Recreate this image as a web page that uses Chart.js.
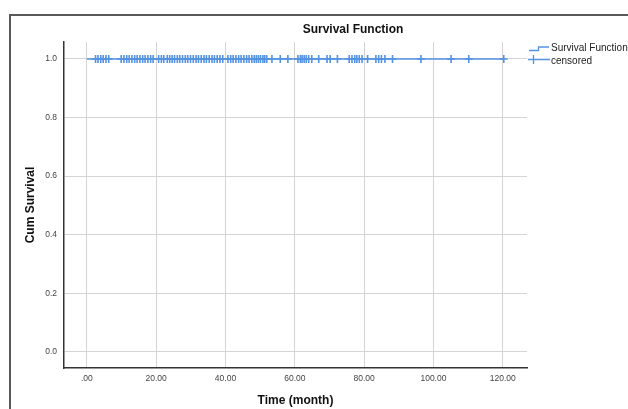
<!DOCTYPE html>
<html>
<head>
<meta charset="utf-8">
<script src="https://cdn.jsdelivr.net/npm/chart.js@4/dist/chart.umd.min.js"></script>
<style>
  html, body { margin: 0; padding: 0; background: #fff; }
  #wrap { position: relative; width: 628px; height: 409px; }
  #frame { position: absolute; left: 9px; top: 14px; right: 0; bottom: 0;
           border-left: 2px solid #5a5a5a; border-top: 2px solid #5a5a5a; }
  canvas { position: absolute; left: 0; top: 0; }
</style>
</head>
<body>
<div id="wrap">
  <div id="frame"></div>
  <canvas id="c" width="628" height="409"></canvas>
</div>
<script>
// data
const chartTitle = 'Survival Function';
const xTitle = 'Time (month)';
const yTitle = 'Cum Survival';

const survivalTimes = [0, 120.3];
const survivalValues = [1, 1];

const censoredTimes = [
  2.5, 3.2, 4.0, 4.7, 5.5, 6.3,
  9.9, 10.7, 11.5, 12.2, 13.0, 13.8, 14.5, 15.3, 16.1, 16.8, 17.6, 18.4, 19.1,
  20.7, 21.5, 22.2, 23.2, 23.9, 24.6, 25.3, 26.1, 26.8, 27.6, 28.4, 29.1, 29.9,
  30.7, 31.5, 32.2, 33.0, 33.8, 34.5, 35.3, 36.1, 36.8, 37.6, 38.4, 39.2,
  40.7, 41.5, 42.2, 43.0, 43.8, 44.5, 45.3, 46.1, 46.8, 47.6,
  48.3, 48.9, 49.5, 50.1, 50.8, 51.3, 51.9, 53.4, 55.8, 58.0,
  60.9, 61.6, 62.1, 62.7, 63.3, 64.0, 64.9, 66.9, 69.3, 70.2,
  72.3, 75.7, 76.5, 77.3, 77.9, 78.6, 79.4, 81.0, 83.4, 84.2, 85.0, 86.0, 88.2,
  96.4, 105.1, 110.2, 120.3
];
const censoredValues = censoredTimes.map(() => 1);

const xTicks = [0, 20, 40, 60, 80, 100, 120];
const xTickLabels = ['.00', '20.00', '40.00', '60.00', '80.00', '100.00', '120.00'];
const yTicks = [0, 0.2, 0.4, 0.6, 0.8, 1.0];
const yTickLabels = ['0.0', '0.2', '0.4', '0.6', '0.8', '1.0'];

const legendLabels = ['Survival Function', 'censored'];

const blue = 'rgb(84,146,226)';
const FONT = '"Liberation Sans", Arial, sans-serif';

const extras = {
  id: 'extras',
  afterDraw(chart) {
    const ctx = chart.ctx;
    ctx.save();
    ctx.fillStyle = '#111';
    ctx.font = 'bold 12px ' + FONT;
    ctx.textAlign = 'center';
    ctx.textBaseline = 'middle';
    ctx.fillText(chartTitle, 353, 30);

    // legend
    ctx.strokeStyle = blue;
    ctx.lineWidth = 1.3;
    ctx.beginPath();
    ctx.moveTo(529, 50.5); ctx.lineTo(538.5, 50.5); ctx.lineTo(538.5, 47); ctx.lineTo(549, 47);
    ctx.stroke();
    ctx.beginPath();
    ctx.moveTo(528, 59.5); ctx.lineTo(550, 59.5);
    ctx.moveTo(533.5, 55); ctx.lineTo(533.5, 64);
    ctx.stroke();
    ctx.fillStyle = '#222';
    ctx.font = '10px ' + FONT;
    ctx.textAlign = 'left';
    ctx.fillText(legendLabels[0], 551, 48.5);
    ctx.fillText(legendLabels[1], 551, 61);
    ctx.restore();
  }
};

new Chart(document.getElementById('c'), {
  type: 'scatter',
  data: {
    datasets: [
      {
        label: legendLabels[0],
        type: 'line',
        data: survivalTimes.map((t, i) => ({ x: t, y: survivalValues[i] })),
        borderColor: blue,
        borderWidth: 1.6,
        stepped: 'before',
        pointRadius: 0,
        fill: false
      },
      {
        label: legendLabels[1],
        data: censoredTimes.map((t, i) => ({ x: t, y: censoredValues[i] })),
        pointStyle: 'cross',
        pointRadius: 4,
        borderColor: blue,
        borderWidth: 1.6,
        backgroundColor: blue
      }
    ]
  },
  options: {
    responsive: false,
    animation: false,
    layout: { padding: { left: 0, right: 101, top: 42, bottom: 0 } },
    plugins: { legend: { display: false }, title: { display: false }, tooltip: { enabled: false } },
    scales: {
      x: {
        type: 'linear',
        min: -6.6,
        max: 127,
        afterFit: s => { s.height = 41; },
        afterBuildTicks: s => { s.ticks = xTicks.map(v => ({ value: v })); },
        ticks: {
          padding: 6,
          maxRotation: 0,
          autoSkip: false,
          color: '#444',
          font: { family: FONT, size: 8.5 },
          callback: (v) => xTickLabels[xTicks.indexOf(v)]
        },
        grid: { color: '#d4d4d4', lineWidth: 1, drawTicks: false },
        border: { color: '#333', width: 1.5 },
        title: {
          display: true, text: xTitle, color: '#111',
          font: { family: FONT, size: 12, weight: 'bold' },
          padding: { top: 0, bottom: 1 }
        }
      },
      y: {
        type: 'linear',
        min: -0.055,
        max: 1.058,
        afterFit: s => { s.width = 64; },
        afterBuildTicks: s => { s.ticks = yTicks.map(v => ({ value: v })); },
        ticks: {
          padding: 7,
          autoSkip: false,
          color: '#444',
          font: { family: FONT, size: 8.5 },
          callback: (v) => yTickLabels[yTicks.findIndex(t => Math.abs(t - v) < 1e-9)]
        },
        grid: { color: '#d4d4d4', lineWidth: 1, drawTicks: false },
        border: { color: '#333', width: 1.5 },
        title: {
          display: true, text: yTitle, color: '#111',
          font: { family: FONT, size: 12, weight: 'bold' },
          padding: { top: 23, bottom: 0 }
        }
      }
    }
  },
  plugins: [extras]
});
</script>
</body>
</html>
